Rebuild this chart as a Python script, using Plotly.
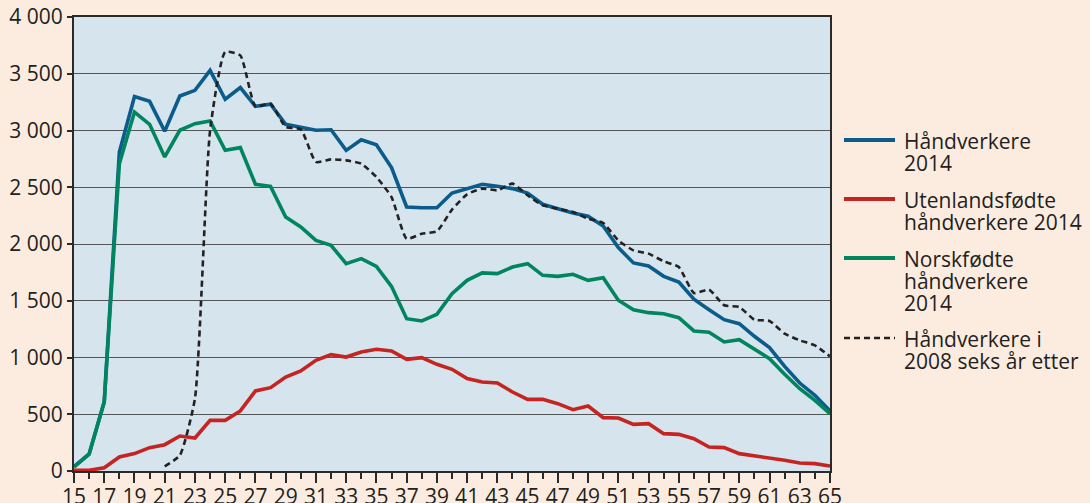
import plotly.graph_objects as go

ages = list(range(15, 66))

handverkere_2014 = [40, 150, 610, 2810, 3300, 3257, 2993, 3304, 3354, 3530,
                    3275, 3378, 3213, 3231, 3055, 3031, 3002, 3007, 2825, 2919,
                    2875, 2673, 2326, 2320, 2320, 2449, 2488, 2526, 2508, 2488,
                    2449, 2350, 2311, 2273, 2244, 2159, 1968, 1833, 1806, 1715,
                    1665, 1513, 1421, 1333, 1298, 1187, 1087, 922, 775, 667, 529]

utenlandsfodte_2014 = [6, 6, 29, 123, 153, 206, 232, 308, 291, 446,
                       446, 529, 705, 734, 828, 881, 975, 1025, 1004, 1048,
                       1072, 1057, 984, 999, 940, 896, 814, 784, 775, 696,
                       631, 631, 593, 540, 573, 470, 467, 411, 417, 329,
                       323, 285, 211, 206, 153, 135, 115, 94, 70, 65, 44]

norskfodte_2014 = [35, 147, 608, 2708, 3163, 3055, 2767, 3002, 3060, 3084,
                   2825, 2849, 2526, 2508, 2238, 2150, 2032, 1988, 1827, 1871,
                   1803, 1627, 1342, 1322, 1380, 1562, 1680, 1745, 1739, 1797,
                   1827, 1724, 1715, 1733, 1680, 1703, 1504, 1421, 1395, 1386,
                   1351, 1234, 1222, 1137, 1157, 1069, 990, 852, 725, 623, 505]

ages_2008 = list(range(21, 66))
handverkere_2008_shifted = [41, 138, 640, 3000, 3692, 3662, 3213, 3236, 3031, 3010,
                            2723, 2746, 2737, 2708, 2590, 2414, 2047, 2091, 2112, 2303,
                            2438, 2488, 2473, 2532, 2429, 2341, 2311, 2282, 2223, 2185,
                            2032, 1944, 1915, 1847, 1797, 1568, 1598, 1460, 1445, 1333,
                            1322, 1210, 1151, 1107, 1010]

series_names = ["Håndverkere 2014", "Utenlandsfødte håndverkere 2014",
                "Norskfødte håndverkere 2014", "Håndverkere i 2008 seks år etter"]
legend_lines = [["Håndverkere", "2014"],
                ["Utenlandsfødte", "håndverkere 2014"],
                ["Norskfødte", "håndverkere", "2014"],
                ["Håndverkere i", "2008 seks år etter"]]

x_ticks = list(range(15, 66, 2))
y_ticks = list(range(0, 4001, 500))

BLUE = "#0b5c8b"
RED = "#c52420"
GREEN = "#00855e"
DASH = "#222222"
TEXT = "#231f20"
BG = "#fcece0"
FONT = "Open Sans"
colors = [BLUE, RED, GREEN, DASH]
dashes = ["solid", "solid", "solid", "6px,4px"]
widths = [4.0, 4.0, 4.0, 2.4]

W, H = 1090, 503
ML, MR, MT, MB = 74, 260, 17, 32
PW, PH = W - ML - MR, H - MT - MB


def px_x(p):
    return (p - ML) / PW


def px_y(p):
    return (H - MB - p) / PH


fig = go.Figure()
fig.add_trace(go.Scatter(x=ages, y=handverkere_2014, mode="lines",
                         name=series_names[0],
                         line=dict(color=BLUE, width=3.6)))
fig.add_trace(go.Scatter(x=ages, y=utenlandsfodte_2014, mode="lines",
                         name=series_names[1],
                         line=dict(color=RED, width=3.6)))
fig.add_trace(go.Scatter(x=ages, y=norskfodte_2014, mode="lines",
                         name=series_names[2],
                         line=dict(color=GREEN, width=3.6)))
fig.add_trace(go.Scatter(x=ages_2008, y=handverkere_2008_shifted, mode="lines",
                         name=series_names[3],
                         line=dict(color=DASH, width=2.6, dash="6px,4px",
                                   shape="spline", smoothing=0.5)))

# manual legend (swatch + one annotation per text line, tight leading)
first_line_px = [140, 199, 258, 338]
line_step = 22
shapes = []
annotations = []
for i, lines in enumerate(legend_lines):
    y0 = first_line_px[i]
    shapes.append(dict(type="line", xref="paper", yref="paper",
                       x0=px_x(844), x1=px_x(895), y0=px_y(y0), y1=px_y(y0),
                       line=dict(color=colors[i], width=widths[i], dash=dashes[i])))
    for j, t in enumerate(lines):
        annotations.append(dict(text=t, xref="paper", yref="paper",
                                x=px_x(902), y=px_y(y0 + j * line_step + 1),
                                xanchor="left", yanchor="middle", showarrow=False,
                                font=dict(family=FONT, size=21, color=TEXT)))

fig.update_layout(
    width=W, height=H,
    margin=dict(l=ML, r=MR, t=MT, b=MB, autoexpand=False),
    paper_bgcolor=BG,
    plot_bgcolor="#d6e4ee",
    separators=", ",
    font=dict(family=FONT, size=21, color=TEXT),
    showlegend=False,
    shapes=shapes,
    annotations=annotations,
)

fig.update_xaxes(
    range=[15, 65], tickvals=x_ticks, ticktext=[str(v) for v in x_ticks],
    automargin=False,
    showgrid=False, zeroline=False,
    showline=True, linecolor="#2a2a2a", linewidth=2, mirror=True,
    ticks="outside", ticklen=10, tickwidth=1.5, tickcolor="#2a2a2a",
    ticklabelstandoff=-4,
    tickfont=dict(family=FONT, size=21, color=TEXT),
    minor=dict(tickvals=ages, ticks="outside", ticklen=6, tickwidth=1.5,
               tickcolor="#2a2a2a", showgrid=False),
)
fig.update_yaxes(
    range=[0, 4000], tickvals=y_ticks, tickformat=",",
    automargin=False,
    showgrid=True, gridcolor="#555555", gridwidth=1,
    zeroline=False,
    showline=True, linecolor="#2a2a2a", linewidth=2, mirror=True,
    ticks="outside", ticklen=5, tickwidth=1.5, tickcolor="#2a2a2a",
    tickfont=dict(family=FONT, size=21, color=TEXT),
)

fig.write_html(
    "out.html",
    config={"displayModeBar": False},
    post_script=("document.body.style.margin='0';"
                 "document.body.style.overflow='hidden';"
                 "document.body.style.background='" + BG + "';"),
)
